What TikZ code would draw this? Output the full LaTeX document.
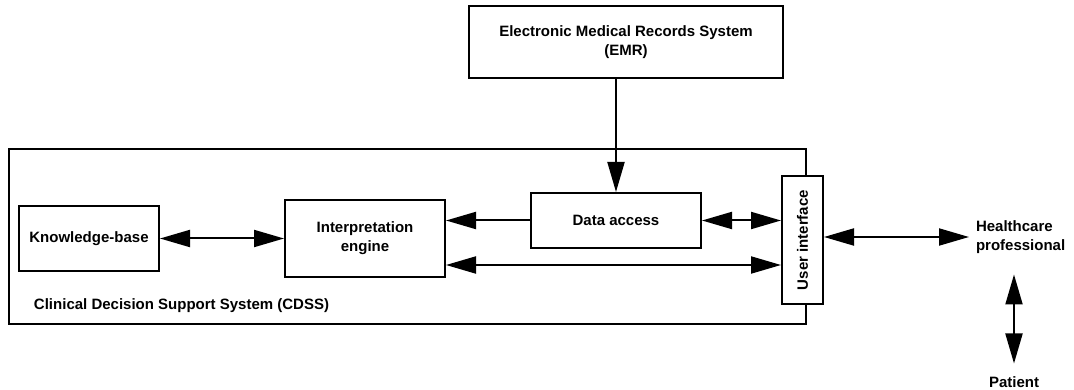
\documentclass[tikz,border=0pt]{standalone}
\usepackage{fontspec}
\setmainfont{Liberation Sans}
\usetikzlibrary{arrows.meta}

\begin{document}
\begin{tikzpicture}
[x=1pt, y=-1pt, line width=2pt,
 every node/.style={inner sep=0pt, font=\fontsize{15}{19}\selectfont\bfseries},
 box/.style={draw, fill=white, align=center},
 big/.style={-{Triangle[length=30pt,width=17pt]}},
 bigboth/.style={{Triangle[length=30pt,width=17pt]}-{Triangle[length=30pt,width=17pt]}}]
\useasboundingbox (0,0) rectangle (1074,390);
% outer system frame
\draw (9,149) rectangle (806,324);
\node (cdsslabel) [anchor=west] at (33,306) {Clinical Decision Support System (CDSS)};
\node (emr) [box, minimum width=314pt, minimum height=72pt] at (626,42) {Electronic Medical Records System\\(EMR)};
\node (data) [box, minimum width=170pt, minimum height=55pt] at (616,220.5) {Data access};
\node (kb) [box, minimum width=140pt, minimum height=65pt] at (89,238.5) {Knowledge-base};
\node (engine) [box, minimum width=160pt, minimum height=77pt] at (365,238.5) {Interpretation\\engine};
\node (ui) [box, minimum width=41pt, minimum height=128pt] at (802.5,240) {\rotatebox{90}{User interface}};
\node (hcp) [anchor=west, align=left] at (975,237) {Healthcare\\professional};
\node (patient) at (1014,382) {Patient};
\draw [big] (data.north |- emr.south) -- (data.north);
\draw [bigboth] (kb.east) -- (engine.west);
\draw [big] (data.west) -- (data.west -| engine.east);
\draw [bigboth] ([yshift=-26.5pt]engine.east) -- ([yshift=-26.5pt]engine.east -| ui.west);
\draw [bigboth] (data.east) -- (data.east -| ui.west);
\draw [bigboth] (ui.east |- hcp.west) -- ([xshift=-6pt]hcp.west);
\draw [bigboth] ([yshift=-20pt]patient.north |- hcp.south) -- ([yshift=12pt]patient.north);
\end{tikzpicture}
\end{document}
